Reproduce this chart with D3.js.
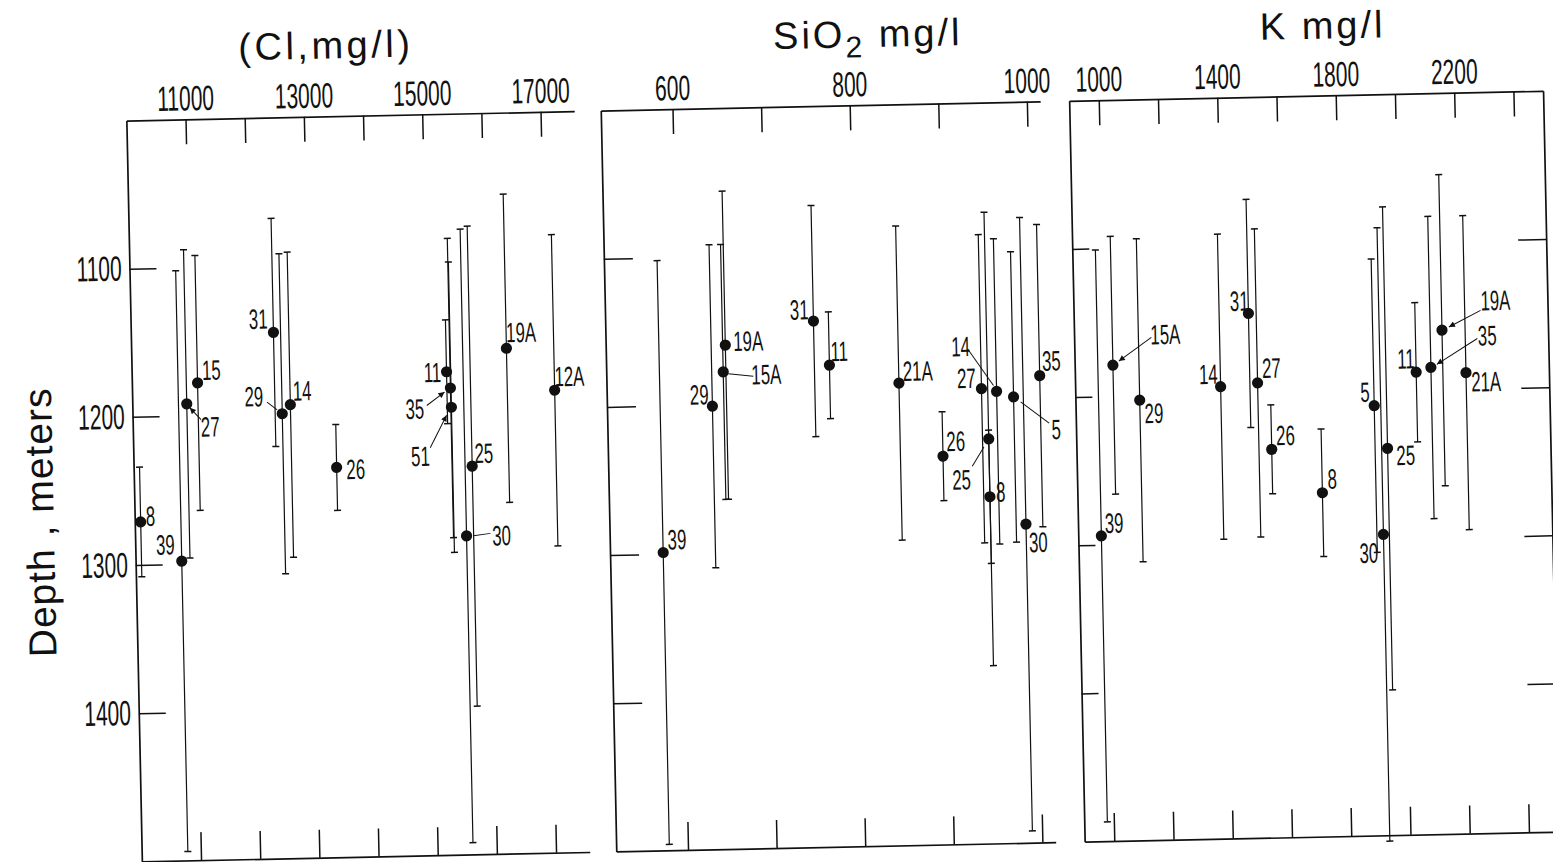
<!DOCTYPE html>
<html>
<head>
<meta charset="utf-8">
<script src="https://cdn.jsdelivr.net/npm/d3@7/dist/d3.min.js"></script>
<style>
  body { margin: 0; background: #fff; }
  svg { display: block; }
  text { fill: #111; }
</style>
</head>
<body>
<script>
// ---- data ----
// depth axis (shared by the three panels)
const depthTicks = [1100, 1200, 1300, 1400];

// panel 1 : Cl, mg/l
const clWells = ["8", "39", "27", "15", "31", "29", "14", "26", "11", "35", "51", "25", "30", "19A", "12A"];
const clValues = [10100, 10780, 10920, 11110, 12410, 12530, 12670, 13430, 15320, 15380, 15390, 15720, 15600, 16340, 17140];
const clDepth = [1271, 1298, 1192, 1178, 1145, 1200, 1194, 1237, 1174, 1185, 1198, 1238, 1285, 1159, 1188];
const clErr = [37, 196, 104, 86, 77, 108, 103, 29, 35, 101, 98, 162, 207, 104, 105];
const clTicks = [11000, 12000, 13000, 14000, 15000, 16000, 17000];
const clTickLabels = [11000, 13000, 15000, 17000];

// panel 2 : SiO2, mg/l
const siWells = ["39", "29", "19A", "15A", "31", "11", "21A", "26", "27", "14", "5", "35", "25", "8", "30"];
const siValues = [579, 638, 654, 651, 754, 771, 849, 897, 942, 959, 978, 1008, 949, 949, 989];
const siDepth = [1299, 1201, 1160, 1178, 1145, 1175, 1188, 1238, 1193, 1195, 1199, 1185, 1227, 1266, 1285];
const siErr = [197, 109, 104, 86, 78, 36, 106, 30, 104, 103, 98, 102, 153, 45, 207];
const siTicks = [600, 700, 800, 900, 1000];
const siTickLabels = [600, 800, 1000];

// panel 3 : K, mg/l
const kWells = ["39", "15A", "29", "14", "31", "27", "26", "8", "5", "30", "25", "11", "35", "19A", "21A"];
const kValues = [978, 1029, 1117, 1391, 1490, 1516, 1559, 1727, 1908, 1930, 1950, 2052, 2102, 2142, 2220];
const kDepth = [1294, 1179, 1203, 1195, 1146, 1193, 1238, 1268, 1210, 1297, 1239, 1188, 1185, 1160, 1189];
const kErr = [193, 87, 109, 103, 77, 104, 30, 43, 99, 207, 163, 47, 102, 105, 106];
const kTicks = [1000, 1200, 1400, 1600, 1800, 2000, 2200, 2400];
const kTickLabels = [1000, 1400, 1800, 2200];

// label placement next to each point (pixels from the dot)
const clLabelPos = {"8": [10, -6], "39": [-16, -17], "27": [23, 23], "15": [14, -13], "31": [-15, -14],
  "29": [-28, -18], "14": [12, -14], "26": [19, 2], "11": [-14, 0], "35": [-36, 20], "51": [-32, 48],
  "25": [12, -13], "30": [35, 0], "19A": [15, -16], "12A": [15, -14]};
const clLeaders = {"27": [14, 16, 3, 4, true], "29": [-15, -12, -5, -4, false], "35": [-24, 17, -6, 4, true],
  "51": [-22, 40, -5, 8, true], "30": [24, -2, 7, 0, false]};

const siLabelPos = {"39": [14, -13], "29": [-13, -12], "19A": [23, -4], "15A": [43, 3], "31": [-14, -12],
  "11": [10, -14], "21A": [19, -12], "26": [13, -15], "27": [-15, -11], "14": [-35, -46], "5": [42, 33],
  "35": [12, -15], "25": [-28, 40], "8": [11, -5], "30": [12, 18]};
const siLeaders = {"15A": [5, 2, 30, 5, false], "14": [-28, -43, -3, -6, false], "25": [-17, 27, -5, 8, false],
  "5": [7, 5, 35, 27, false]};

const kLabelPos = {"39": [13, -13], "15A": [53, -30], "29": [14, 13], "14": [-12, -13], "31": [-9, -13],
  "27": [14, -15], "26": [14, -14], "8": [10, -14], "5": [-9, -14], "30": [-15, 18], "25": [18, 7],
  "11": [-10, -14], "35": [57, -31], "19A": [54, -29], "21A": [20, 9]};
const kLeaders = {"15A": [39, -27, 6, -4, true], "35": [47, -28, 6, -3, true], "19A": [39, -19, 7, -3, true]};

const w = 1553;
const h = 862;
const font = "'Liberation Sans', Arial, sans-serif";

const svg = d3.select("body")
    .append("svg")
    .attr("width", w)
    .attr("height", h);

svg.append("defs").append("marker")
    .attr("id", "arr")
    .attr("viewBox", "0 0 10 10")
    .attr("refX", 10).attr("refY", 5)
    .attr("markerWidth", 8).attr("markerHeight", 6)
    .attr("markerUnits", "userSpaceOnUse")
    .attr("orient", "auto")
    .append("path")
    .attr("d", "M0,0L10,5L0,10z")
    .attr("fill", "#111");

// the scan sits a little skewed on the page
const root = svg.append("g").attr("transform", "rotate(-1.2 776 431)");

const yScale = d3.scaleLinear().domain([1000, 1500]).range([107, 848]);

function note(g, x, y, txt, size, sx) {
    g.append("text")
        .attr("transform", "translate(" + x + "," + y + ") scale(" + sx + ",1)")
        .attr("text-anchor", "middle")
        .attr("dy", "0.36em")
        .attr("font-family", font)
        .attr("font-size", size)
        .text(txt);
}

function styleAxis(sel) {
    sel.selectAll("path").attr("stroke", "#111").attr("stroke-width", 1.7);
    sel.selectAll("line").attr("stroke", "#111").attr("stroke-width", 1.5);
}

function drawPanel(p) {
    const xScale = d3.scaleLinear().domain(p.domain).range(p.range);
    const g = root.append("g");

    // top axis with labels
    const top = g.append("g")
        .attr("transform", "translate(0," + yScale(1000) + ")")
        .call(d3.axisTop(xScale).tickValues(p.ticks).tickSize(-25).tickSizeOuter(0).tickPadding(9)
            .tickFormat(function (d) { return p.tickLabels.includes(d) ? d : ""; }))
        .attr("font-family", font)
        .attr("font-size", 35);
    top.selectAll("text").attr("transform", "scale(0.6,1)").attr("fill", "#111");
    styleAxis(top);

    // bottom axis, ticks only
    const bottom = g.append("g")
        .attr("transform", "translate(0," + yScale(1500) + ")")
        .call(d3.axisBottom(xScale).tickValues(p.ticks).tickSize(-28).tickSizeOuter(0).tickFormat(""));
    styleAxis(bottom);

    // left frame
    const left = g.append("g")
        .attr("transform", "translate(" + p.range[0] + ",0)")
        .call(d3.axisLeft(yScale).tickValues(depthTicks).tickSize(-p.leftTick).tickSizeOuter(0)
            .tickPadding(13).tickFormat(p.yLabels ? d3.format("d") : ""))
        .attr("font-family", font)
        .attr("font-size", 35);
    left.selectAll("text").attr("transform", "scale(0.6,1)").attr("fill", "#111");
    styleAxis(left);

    if (p.rightFrame) {
        const right = g.append("g")
            .attr("transform", "translate(" + p.range[1] + ",0)")
            .call(d3.axisRight(yScale).tickValues(depthTicks).tickSize(-28).tickSizeOuter(0).tickFormat(""));
        styleAxis(right);
    }

    // error bars
    const bars = g.selectAll(".bar")
        .data(p.wells)
        .enter()
        .append("g")
        .attr("class", "bar");

    bars.append("line")
        .attr("x1", function (d, i) { return xScale(p.values[i]); })
        .attr("x2", function (d, i) { return xScale(p.values[i]); })
        .attr("y1", function (d, i) { return yScale(p.depth[i] - p.err[i]); })
        .attr("y2", function (d, i) { return yScale(p.depth[i] + p.err[i]); })
        .attr("stroke", "#111")
        .attr("stroke-width", 1.2);

    [-1, 1].forEach(function (s) {
        bars.append("line")
            .attr("x1", function (d, i) { return xScale(p.values[i]) - 3.5; })
            .attr("x2", function (d, i) { return xScale(p.values[i]) + 3.5; })
            .attr("y1", function (d, i) { return yScale(p.depth[i] + s * p.err[i]); })
            .attr("y2", function (d, i) { return yScale(p.depth[i] + s * p.err[i]); })
            .attr("stroke", "#111")
            .attr("stroke-width", 1.5);
    });

    // points
    g.selectAll(".dot")
        .data(p.wells)
        .enter()
        .append("circle")
        .attr("class", "dot")
        .attr("cx", function (d, i) { return xScale(p.values[i]); })
        .attr("cy", function (d, i) { return yScale(p.depth[i]); })
        .attr("r", 5.6)
        .attr("fill", "#111");

    // well numbers and leader lines
    p.wells.forEach(function (name, i) {
        const cx = xScale(p.values[i]);
        const cy = yScale(p.depth[i]);
        const off = p.labelPos[name];
        note(g, cx + off[0], cy + off[1], name, 28, 0.6);
        const ld = p.leaders[name];
        if (ld) {
            const line = g.append("line")
                .attr("x1", cx + ld[0]).attr("y1", cy + ld[1])
                .attr("x2", cx + ld[2]).attr("y2", cy + ld[3])
                .attr("stroke", "#111")
                .attr("stroke-width", 1);
            if (ld[4]) line.attr("marker-end", "url(#arr)");
        }
    });
}

drawPanel({
    wells: clWells, values: clValues, depth: clDepth, err: clErr,
    domain: [10000, 17570], range: [133, 581],
    ticks: clTicks, tickLabels: clTickLabels,
    labelPos: clLabelPos, leaders: clLeaders,
    leftTick: 27, yLabels: true, rightFrame: false
});

drawPanel({
    wells: siWells, values: siValues, depth: siDepth, err: siErr,
    domain: [519, 1015], range: [607.5, 1047],
    ticks: siTicks, tickLabels: siTickLabels,
    labelPos: siLabelPos, leaders: siLeaders,
    leftTick: 29, yLabels: false, rightFrame: false
});

drawPanel({
    wells: kWells, values: kValues, depth: kDepth, err: kErr,
    domain: [900, 2500], range: [1076, 1550],
    ticks: kTicks, tickLabels: kTickLabels,
    labelPos: kLabelPos, leaders: kLeaders,
    leftTick: 17, yLabels: false, rightFrame: true
});

// panel titles
root.append("text")
    .attr("x", 334).attr("y", 49)
    .attr("text-anchor", "middle")
    .attr("font-family", font).attr("font-size", 38).attr("letter-spacing", 3.5)
    .text("(Cl,mg/l)");

const t2 = root.append("text")
    .attr("x", 876).attr("y", 49)
    .attr("text-anchor", "middle")
    .attr("font-family", font).attr("font-size", 38).attr("letter-spacing", 3);
t2.append("tspan").text("SiO");
t2.append("tspan").attr("dy", 10).attr("font-size", 30).text("2");
t2.append("tspan").attr("dy", -10).text("\u00a0mg/l");

root.append("text")
    .attr("x", 1331).attr("y", 50)
    .attr("text-anchor", "middle")
    .attr("font-family", font).attr("font-size", 38).attr("letter-spacing", 3)
    .text("K mg/l");

// depth title
root.append("text")
    .attr("transform", "translate(38,507) rotate(-90)")
    .attr("y", 14)
    .attr("text-anchor", "middle")
    .attr("font-family", font).attr("font-size", 39).attr("letter-spacing", 1)
    .text("Depth , meters");
</script>
</body>
</html>
